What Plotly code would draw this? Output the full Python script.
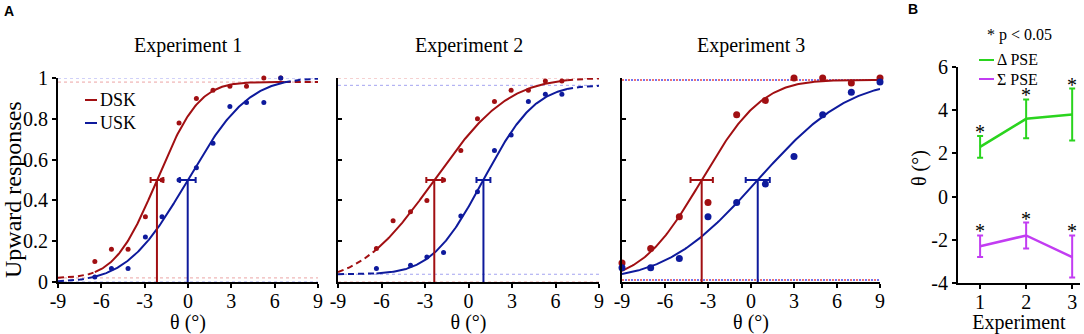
import math
import plotly.graph_objects as go

# ---------------- data ----------------
# Panel A, Experiment 1
exp1_x = [-6.45, -5.3, -4.15, -2.95, -1.8, -0.62, 0.58, 1.73, 2.9, 4.05, 5.25, 6.42]
exp1_dsk = [0.10, 0.16, 0.16, 0.32, 0.50, 0.78, 0.90, 0.94, 0.96, 0.96, 1.00, 1.00]
exp1_usk = [0.025, 0.066, 0.066, 0.22, 0.32, 0.50, 0.56, 0.68, 0.86, 0.88, 0.88, 1.00]
# Panel A, Experiment 2
exp2_x = [-6.35, -5.2, -4.0, -2.87, -1.72, -0.53, 0.62, 1.79, 2.94, 4.13, 5.3, 6.44]
exp2_dsk = [0.164, 0.30, 0.344, 0.40, 0.50, 0.645, 0.80, 0.885, 0.94, 0.94, 0.985, 0.985]
exp2_usk = [0.066, None, 0.082, 0.123, 0.144, 0.323, 0.443, 0.645, 0.72, 0.885, 0.92, 0.92]
# Panel A, Experiment 3
exp3_x = [-9, -7, -5, -3, -1, 1, 3, 5, 7, 9]
exp3_dsk = [0.093, 0.164, 0.32, 0.39, 0.82, 0.89, 1.0, 1.0, 0.975, 1.0]
exp3_usk = [0.07, 0.07, 0.115, 0.32, 0.39, 0.48, 0.615, 0.82, 0.93, 0.98]

# fitted psychometric functions (cumulative Gaussian) per experiment
pse_dsk = [-2.15, -2.36, -3.44]
pse_dsk_err = [0.44, 0.55, 0.78]
sigma_dsk = [2.28, 4.0, 3.3]
low_dsk = [0.02, 0.0, 0.01]
high_dsk = [0.98, 1.0, 0.99]
pse_usk = [-0.02, 1.03, 0.47]
pse_usk_err = [0.55, 0.48, 0.84]
sigma_usk = [3.3, 2.8, 5.0]
low_usk = [0.0, 0.038, 0.01]
high_usk = [1.0, 0.964, 0.99]
fit_lo = [-6.45, -6.35, -9.0]   # range covered by data (solid part)
fit_hi = [6.7, 6.8, 9.0]

x_ticks = [-9, -6, -3, 0, 3, 6, 9]
y_ticks = [0, 0.2, 0.4, 0.6, 0.8, 1]
y_ticklabels = ["0", "0.2", "0.4", "0.6", "0.8", "1"]
titles = ["Experiment 1", "Experiment 2", "Experiment 3"]

# Panel B
experiments = [1, 2, 3]
delta_pse = [2.3, 3.6, 3.8]
delta_hi = [2.8, 4.5, 5.0]
delta_lo = [1.8, 2.7, 2.6]
sigma_pse = [-2.3, -1.8, -2.8]
sigma_hi = [-1.8, -1.2, -1.8]
sigma_lo = [-2.8, -2.4, -3.75]
b_y_ticks = [-4, -2, 0, 2, 4, 6]

# ---------------- style ----------------
RED = "#A10F12"
BLUE = "#0E1A9C"
RED_L = "rgba(220,90,90,0.55)"
BLUE_L = "rgba(90,90,230,0.55)"
GREEN = "#2AD41E"
PURPLE = "#C23CF2"
SERIF = "Liberation Serif, Times New Roman, serif"
SANS = "Liberation Sans, Arial, sans-serif"
W, H = 1084, 334


def px(x):
    return x / W


def py(y):
    return 1 - y / H


def psy(x, mu, s, g, h):
    return g + (h - g) * 0.5 * (1 + math.erf((x - mu) / (s * math.sqrt(2))))


def grid(a, b, n=120):
    return [a + (b - a) * i / n for i in range(n + 1)]


fig = go.Figure()

datasets = [(exp1_x, exp1_dsk, exp1_usk), (exp2_x, exp2_dsk, exp2_usk), (exp3_x, exp3_dsk, exp3_usk)]
for i in range(3):
    xa = "x" if i == 0 else f"x{i+1}"
    ya = "y" if i == 0 else f"y{i+1}"
    xs, dsk, usk = datasets[i]
    # asymptote dotted lines
    if i < 2:
        for lv, col in [(low_dsk[i], RED_L), (high_dsk[i], RED_L), (low_usk[i], BLUE_L), (high_usk[i], BLUE_L)]:
            fig.add_trace(go.Scatter(x=[-9, 9], y=[lv, lv], mode="lines", xaxis=xa, yaxis=ya,
                                     line=dict(color=col, width=1, dash="dot"), hoverinfo="skip",
                                     showlegend=False, cliponaxis=False))
    else:
        for lv in [low_dsk[i], high_dsk[i]]:
            fig.add_trace(go.Scatter(x=[-9, 9], y=[lv, lv], mode="lines", xaxis=xa, yaxis=ya,
                                     line=dict(color="rgba(235,90,90,0.85)", width=2, dash="2px,4px"),
                                     hoverinfo="skip", showlegend=False, cliponaxis=False))
            fig.add_trace(go.Scatter(x=[-9, 9], y=[lv, lv], mode="lines", xaxis=xa, yaxis=ya,
                                     line=dict(color="rgba(90,90,240,0.85)", width=2, dash="0px,3px,2px,1px"),
                                     hoverinfo="skip", showlegend=False, cliponaxis=False))
    # fitted curves
    for mu, s, g, h, col in [(pse_dsk[i], sigma_dsk[i], low_dsk[i], high_dsk[i], RED),
                             (pse_usk[i], sigma_usk[i], low_usk[i], high_usk[i], BLUE)]:
        if fit_lo[i] > -9:
            gx = grid(-9, fit_lo[i], 30)
            fig.add_trace(go.Scatter(x=gx, y=[psy(v, mu, s, g, h) for v in gx], mode="lines",
                                     xaxis=xa, yaxis=ya, line=dict(color=col, width=2, dash="6px,4px"),
                                     showlegend=False, hoverinfo="skip", cliponaxis=False))
        if fit_hi[i] < 9:
            gx = grid(fit_hi[i], 9, 30)
            fig.add_trace(go.Scatter(x=gx, y=[psy(v, mu, s, g, h) for v in gx], mode="lines",
                                     xaxis=xa, yaxis=ya, line=dict(color=col, width=2, dash="6px,4px"),
                                     showlegend=False, hoverinfo="skip", cliponaxis=False))
        gx = grid(fit_lo[i], fit_hi[i], 200)
        fig.add_trace(go.Scatter(x=gx, y=[psy(v, mu, s, g, h) for v in gx], mode="lines",
                                 xaxis=xa, yaxis=ya, line=dict(color=col, width=2),
                                 showlegend=False, hoverinfo="skip", cliponaxis=False))
    # PSE markers
    for mu, err, col in [(pse_dsk[i], pse_dsk_err[i], RED), (pse_usk[i], pse_usk_err[i], BLUE)]:
        fig.add_trace(go.Scatter(x=[mu, mu], y=[0, 0.5], mode="lines", xaxis=xa, yaxis=ya,
                                 line=dict(color=col, width=2), showlegend=False, hoverinfo="skip"))
        fig.add_trace(go.Scatter(x=[mu], y=[0.5], mode="markers", xaxis=xa, yaxis=ya,
                                 marker=dict(size=1, color=col, opacity=0),
                                 error_x=dict(type="data", array=[err], color=col, thickness=2, width=3),
                                 showlegend=False, hoverinfo="skip"))
    # data points
    msize = 5 if i < 2 else 7
    fig.add_trace(go.Scatter(x=xs, y=dsk, mode="markers", xaxis=xa, yaxis=ya, name="DSK",
                             marker=dict(color=RED, size=msize), showlegend=False, cliponaxis=False))
    fig.add_trace(go.Scatter(x=xs, y=usk, mode="markers", xaxis=xa, yaxis=ya, name="USK",
                             marker=dict(color=BLUE, size=msize), showlegend=False, cliponaxis=False))

# Panel B
fig.add_trace(go.Scatter(x=experiments, y=delta_pse, mode="lines", xaxis="x4", yaxis="y4",
                         line=dict(color=GREEN, width=2.5), name="Δ PSE", showlegend=False,
                         error_y=dict(type="data", array=[h - v for h, v in zip(delta_hi, delta_pse)],
                                      arrayminus=[v - l for v, l in zip(delta_pse, delta_lo)],
                                      color=GREEN, thickness=2, width=3), cliponaxis=False))
fig.add_trace(go.Scatter(x=experiments, y=sigma_pse, mode="lines", xaxis="x4", yaxis="y4",
                         line=dict(color=PURPLE, width=2.5), name="Σ PSE", showlegend=False,
                         error_y=dict(type="data", array=[h - v for h, v in zip(sigma_hi, sigma_pse)],
                                      arrayminus=[v - l for v, l in zip(sigma_pse, sigma_lo)],
                                      color=PURPLE, thickness=2, width=3), cliponaxis=False))

# ---------------- layout ----------------
panel_px = [(58, 318), (338, 599), (622, 880)]
ydom = [py(282), py(78)]
axis_common = dict(showline=True, linecolor="black", linewidth=2, showgrid=False, zeroline=False,
                   automargin=False, tickfont=dict(family=SERIF, size=20, color="black"),
                   tickcolor="black", tickwidth=1.5)
layout = dict(width=W, height=H, margin=dict(l=0, r=0, t=0, b=0), plot_bgcolor="white",
              paper_bgcolor="white", showlegend=False)
for i, (a, b) in enumerate(panel_px):
    k = "" if i == 0 else str(i + 1)
    layout[f"xaxis{k}"] = dict(axis_common, domain=[px(a), px(b)], range=[-9, 9], anchor=f"y{k}",
                               tickvals=x_ticks, ticktext=[str(t) for t in x_ticks],
                               ticks="outside", ticklen=4, ticklabelstandoff=-4,
                               title=dict(text="θ (°)", font=dict(family=SERIF, size=20, color="black"),
                                          standoff=0))
    layout[f"yaxis{k}"] = dict(axis_common, domain=ydom, range=[0, 1], anchor=f"x{k}",
                               tickvals=y_ticks, ticktext=y_ticklabels,
                               ticks="outside" if i == 0 else "inside", ticklen=4,
                               showticklabels=(i == 0))
layout["xaxis4"] = dict(axis_common, domain=[px(958), px(1080)], range=[0.52, 3.17], anchor="y4",
                        tickvals=experiments, ticktext=[str(e) for e in experiments],
                        ticks="outside", ticklen=4, ticklabelstandoff=-4,
                        title=dict(text="Experiment", font=dict(family=SERIF, size=20, color="black"),
                                   standoff=0))
layout["yaxis4"] = dict(axis_common, domain=[py(283), py(67)], range=[-4, 6], anchor="x4",
                        tickvals=b_y_ticks, ticktext=[str(t) for t in b_y_ticks],
                        ticks="outside", ticklen=4)
fig.update_layout(**layout)


def note(x, y, text, size, family=SERIF, xanchor="center", angle=0):
    return dict(x=px(x), y=py(y), xref="paper", yref="paper", text=text, showarrow=False,
                xanchor=xanchor, yanchor="middle", textangle=angle,
                font=dict(family=family, size=size, color="black"))


ann = []
for i, (a, b) in enumerate(panel_px):
    ann.append(note((a + b) / 2, 45, titles[i], 20))
ann.append(note(13, 190, "Upward responses", 24, angle=-90))
ann.append(note(919, 168, "θ (°)", 20, angle=-90))
ann.append(note(9, 11, "<b>A</b>", 14, family=SANS))
ann.append(note(913, 9, "<b>B</b>", 14, family=SANS))
# significance asterisks above the error bars of panel B
for tops in (delta_hi, sigma_hi):
    for e, t in zip(experiments, tops):
        ann.append(dict(x=e, y=t, xref="x4", yref="y4", text="*", showarrow=False,
                        xanchor="center", yanchor="bottom", yshift=-9,
                        font=dict(family=SERIF, size=20, color="black")))
# legend of panel A
shapes = []
for label, col, yy in [("DSK", RED, 100), ("USK", BLUE, 123)]:
    shapes.append(dict(type="line", xref="paper", yref="paper", x0=px(85), x1=px(97), y0=py(yy), y1=py(yy),
                       line=dict(color=col, width=2)))
    ann.append(note(98, yy, label, 18, xanchor="left"))
# legend of panel B
ann.append(note(1019, 35, "* p < 0.05", 16))
for label, col, yy in [("Δ PSE", GREEN, 60), ("Σ PSE", PURPLE, 79)]:
    shapes.append(dict(type="line", xref="paper", yref="paper", x0=px(979), x1=px(994), y0=py(yy), y1=py(yy),
                       line=dict(color=col, width=2)))
    ann.append(note(995, yy, label, 16, xanchor="left"))
fig.update_layout(annotations=ann, shapes=shapes)

fig.write_html("out.html", config={"displayModeBar": False},
               post_script="document.body.style.margin='0px';")
